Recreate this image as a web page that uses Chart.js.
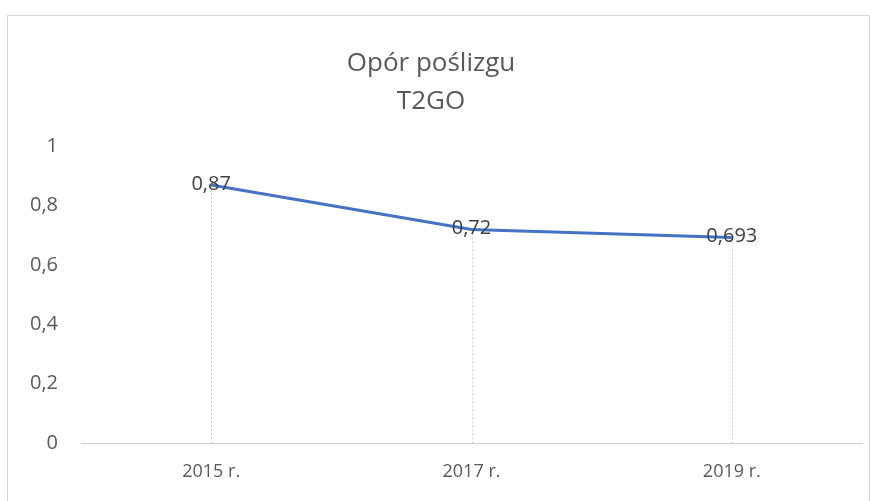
<!DOCTYPE html>
<html>
<head>
<meta charset="utf-8">
<script src="https://cdn.jsdelivr.net/npm/chart.js@4/dist/chart.umd.min.js"></script>
<style>
  html, body { margin: 0; padding: 0; background: #fff; }
  #wrap { width: 877px; height: 501px; }
</style>
</head>
<body>
<div id="wrap"><canvas id="chart" width="877" height="501"></canvas></div>
<script>
const categories = ["2015 r.", "2017 r.", "2019 r."];
const values = [0.87, 0.72, 0.693];
const yTicks = [0, 0.2, 0.4, 0.6, 0.8, 1];
const titleLines = ["Opór poślizgu", "T2GO"];

const fmt = v => String(v).replace(".", ",");

// frame around the chart + drop lines + value labels (Excel style)
const excelBits = {
  id: "excelBits",
  beforeDraw(chart) {
    const ctx = chart.ctx;
    ctx.save();
    ctx.strokeStyle = "#d6d6d6";
    ctx.lineWidth = 1;
    ctx.strokeRect(7.5, 15.5, 862, 500);
    ctx.restore();
  },
  beforeDatasetsDraw(chart) {
    const ctx = chart.ctx;
    const meta = chart.getDatasetMeta(0);
    ctx.save();
    ctx.strokeStyle = "#cfcfcf";
    ctx.lineWidth = 1;
    ctx.setLineDash([2, 2]);
    meta.data.forEach(p => {
      ctx.beginPath();
      ctx.moveTo(Math.round(p.x) + 0.5, p.y);
      ctx.lineTo(Math.round(p.x) + 0.5, chart.chartArea.bottom);
      ctx.stroke();
    });
    ctx.restore();
  },
  afterDatasetsDraw(chart) {
    const ctx = chart.ctx;
    const meta = chart.getDatasetMeta(0);
    ctx.save();
    ctx.font = "20px 'Open Sans'";
    ctx.fillStyle = "#404040";
    ctx.textAlign = "center";
    ctx.textBaseline = "middle";
    meta.data.forEach((p, i) => {
      ctx.fillText(fmt(values[i]), p.x, p.y - 1);
    });
    ctx.restore();
  }
};

new Chart(document.getElementById("chart"), {
  type: "line",
  data: {
    labels: categories,
    datasets: [{
      data: values,
      borderColor: "#4472c4",
      borderWidth: 3,
      pointRadius: 0,
      tension: 0,
      fill: false
    }]
  },
  options: {
    responsive: false,
    animation: false,
    layout: { padding: { left: 0, right: 15, top: 0, bottom: 0 } },
    plugins: {
      legend: { display: false },
      tooltip: { enabled: false },
      title: {
        display: true,
        text: titleLines,
        color: "#595959",
        font: { family: "'Open Sans'", size: 26, weight: "normal", lineHeight: 1.45 },
        padding: { top: 45, bottom: 26 }
      }
    },
    scales: {
      x: {
        offset: true,
        grid: { display: false },
        border: { display: true, color: "#d0d0d0", width: 1, dash: [3, 2] },
        ticks: { color: "#595959", font: { family: "'Open Sans'", size: 18 }, padding: 10 },
        afterFit(scale) { scale.height = 58; }
      },
      y: {
        min: 0,
        max: 1,
        afterBuildTicks(scale) { scale.ticks = yTicks.map(v => ({ value: v })); },
        grid: { display: false },
        border: { display: false },
        ticks: {
          color: "#595959",
          font: { family: "'Open Sans'", size: 20 },
          padding: 15,
          callback: v => fmt(v)
        },
        afterFit(scale) { scale.width = 81; }
      }
    }
  },
  plugins: [excelBits]
});
</script>
</body>
</html>
